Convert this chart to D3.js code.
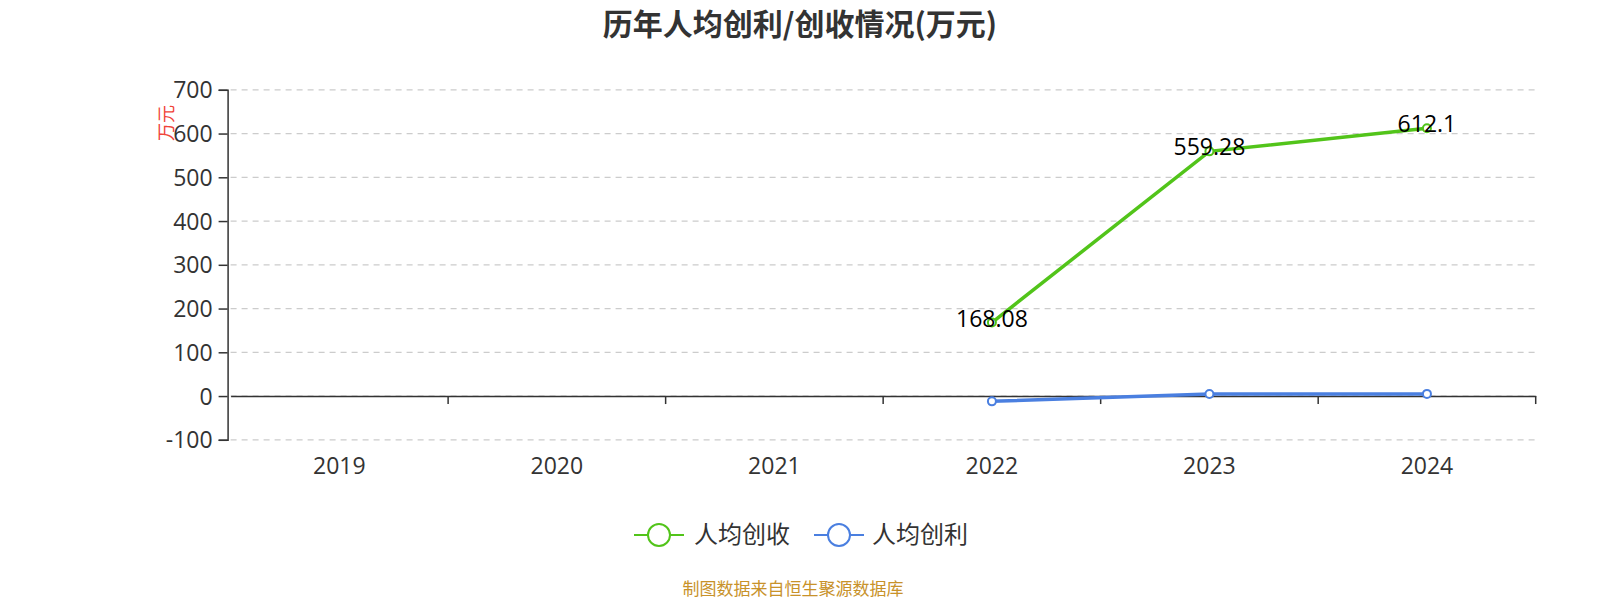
<!DOCTYPE html>
<html><head><meta charset="utf-8">
<script src="https://cdn.jsdelivr.net/npm/d3@7"></script>
<style>body{margin:0;background:#fff;}svg{display:block;font-family:"Open Sans","Noto Sans CJK SC",sans-serif;}</style>
</head><body>
<svg id="c" width="1600" height="600"></svg>
<script>
const years = ["2019","2020","2021","2022","2023","2024"];
const revenuePerCapita = [null,null,null,168.08,559.28,612.1];
const profitPerCapita = [null,null,null,-12.1,4.8,4.9];
const yTicks = [-100,0,100,200,300,400,500,600,700];
const seriesNames = ["人均创收","人均创利"];
const colors = ["#52c41a","#4a7fe0"];
const FONT = "'Open Sans','Noto Sans CJK SC',sans-serif";

const svg = d3.select("#c");
const L = 230.6, R = 1535.7, T = 89.8, B = 439.8;
const x = d3.scaleBand().domain(years).range([L,R]);
const y = d3.scaleLinear().domain([-100,700]).range([B,T]);

svg.append("text").attr("x",800).attr("y",35).attr("text-anchor","middle")
  .attr("font-size",30).attr("font-weight","bold").attr("fill","#333")
  .attr("font-family","'Noto Sans CJK SC',sans-serif").text("历年人均创利/创收情况(万元)");

// grid
svg.append("g").selectAll("line").data(yTicks).join("line")
  .attr("x1",L).attr("x2",R).attr("y1",d=>y(d)).attr("y2",d=>y(d))
  .attr("stroke","#ccc").attr("stroke-dasharray","6,5").attr("stroke-width",1.2);

// y axis
const ya = svg.append("g").attr("transform",`translate(${L-3},0)`)
  .call(d3.axisLeft(y).tickValues(yTicks).tickFormat(d=>String(d)).tickSize(9).tickPadding(6));
ya.attr("font-family",FONT);
ya.select(".domain").attr("stroke","#333").attr("stroke-width",1.5);
ya.selectAll(".tick line").attr("stroke","#333").attr("stroke-width",1.5);
ya.selectAll("text").attr("font-size",23).attr("fill","#333").attr("dy","0.35em");

// x axis at 0
const xa = svg.append("g").attr("transform",`translate(0,${y(0)})`)
  .call(d3.axisBottom(x).tickSize(0).tickPadding(0));
xa.select(".domain").attr("stroke","#333").attr("stroke-width",1.5);
xa.selectAll("text").remove();
const bounds = years.map((d,i)=>x(d)).slice(1).concat([R]);
xa.selectAll(".bt").data(bounds).join("line").attr("x1",d=>d).attr("x2",d=>d)
  .attr("y1",0).attr("y2",8).attr("stroke","#333").attr("stroke-width",1.5);
svg.append("g").selectAll("text").data(years).join("text")
  .attr("x",d=>x(d)+x.bandwidth()/2).attr("y",y(-100)+34).attr("text-anchor","middle")
  .attr("font-size",23).attr("fill","#333").text(d=>d);

// y name
svg.append("text").attr("transform",`translate(173,123) rotate(-90)`).attr("text-anchor","middle")
  .attr("font-size",18).attr("fill","#f0443a").attr("font-family","'Noto Sans CJK SC',sans-serif").text("万元");

const cx = d=>x(d)+x.bandwidth()/2;
[revenuePerCapita, profitPerCapita].forEach((vals,si)=>{
  const pts = years.map((d,i)=>({year:d,v:vals[i]})).filter(p=>p.v!==null);
  const line = d3.line().x(p=>cx(p.year)).y(p=>y(p.v));
  svg.append("path").attr("d",line(pts)).attr("fill","none").attr("stroke",colors[si]).attr("stroke-width",3.5);
  svg.append("g").selectAll("circle").data(pts).join("circle")
    .attr("cx",p=>cx(p.year)).attr("cy",p=>y(p.v)).attr("r",4)
    .attr("fill","#fff").attr("stroke",colors[si]).attr("stroke-width",2);
  if(si===0){
    svg.append("g").selectAll("text").data(pts).join("text")
      .attr("x",p=>cx(p.year)).attr("y",p=>y(p.v)+4).attr("text-anchor","middle")
      .attr("font-size",23).attr("fill","#000").text(p=>p.v);
  }
});

// legend
const lg = [{x:659,tx:694},{x:839,tx:872}];
seriesNames.forEach((n,i)=>{
  const g = svg.append("g");
  g.append("line").attr("x1",lg[i].x-25).attr("x2",lg[i].x+25).attr("y1",535).attr("y2",535)
    .attr("stroke",colors[i]).attr("stroke-width",2);
  g.append("circle").attr("cx",lg[i].x).attr("cy",535).attr("r",11).attr("fill","#fff")
    .attr("stroke",colors[i]).attr("stroke-width",2);
  g.append("text").attr("x",lg[i].tx).attr("y",543).attr("font-size",24).attr("fill","#333")
    .attr("font-family","'Noto Sans CJK SC',sans-serif").text(n);
});

svg.append("text").attr("x",793).attr("y",595).attr("text-anchor","middle").attr("font-size",17)
  .attr("fill","#c8922a").attr("font-family","'Noto Sans CJK SC',sans-serif").text("制图数据来自恒生聚源数据库");
</script>
</body></html>
